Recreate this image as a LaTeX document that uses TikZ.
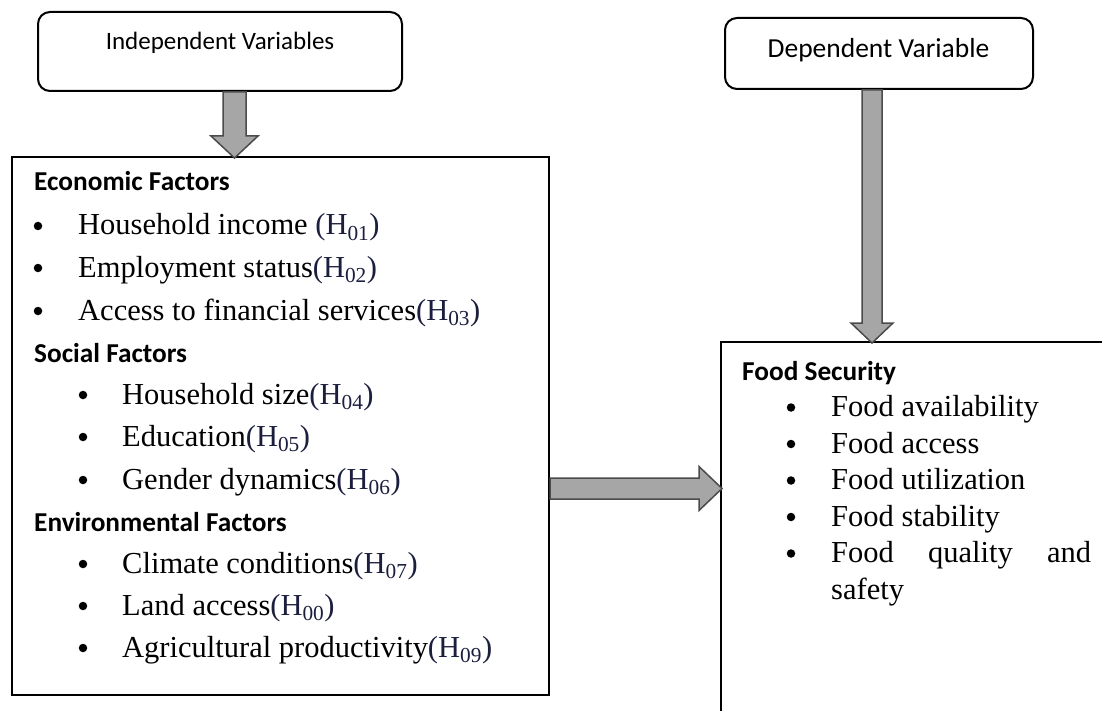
\documentclass[tikz,border=0pt]{standalone}
\usepackage{fontspec}
\setmainfont{Liberation Serif}
\setsansfont{Carlito}
\usetikzlibrary{positioning}
\definecolor{arrowgray}{RGB}{166,166,166}
\definecolor{arrowedge}{RGB}{75,75,75}
\definecolor{hypcol}{RGB}{28,30,62}
\newcommand{\hyp}[1]{{\color{hypcol}(H\textsubscript{#1})}}
\tikzset{
  varbox/.style={draw, line width=2pt, rounded corners=12pt, inner sep=0pt},
  factorbox/.style={draw, line width=2pt, inner sep=0pt},
  blockarrow/.style={draw=arrowedge, fill=arrowgray, line width=1.5pt},
  varlabel/.style={font=\fontsize{25}{30}\sffamily, inner sep=0pt, anchor=base},
  head/.style={font=\fontsize{27.3}{32}\sffamily\bfseries, inner sep=0pt, anchor=base west},
  item/.style={font=\fontsize{30.5}{36}\selectfont, inner sep=0pt, anchor=base west},
  dot/.style={circle, fill, inner sep=0pt, minimum size=8.5pt}}

\begin{document}
\begin{tikzpicture}[x=1pt, y=-1pt]
  \useasboundingbox (0,0) rectangle (1102,711);
  \clip (0,0) rectangle (1102,711);
  % boxes
  \node[varbox, minimum width=364pt, minimum height=79pt] (indep) at (220,51.5) {};
  \node[varbox, minimum width=308pt, minimum height=71pt] (dep) at (879,53.5) {};
  \node[factorbox, minimum width=537pt, minimum height=538pt] (factors) at (280.5,426) {};
  \node[factorbox, minimum width=389pt, minimum height=383pt] (food) at (915.5,533.5) {};
  \node[varlabel] (indeplabel) at (220,50) {Independent Variables};
  \node[varlabel, font=\fontsize{27.5}{32}\sffamily] (deplabel) at (878.5,58) {Dependent Variable};
  % block arrows
  \coordinate (ax) at (234.5,0);
  \coordinate (bx) at (872,0);
  \coordinate (cy) at (0,488.5);
  \draw[blockarrow] (indep.south -| ax) ++(-11.5,0) -- ++(0,44) -- ++(-12,0) -- ++(23.5,22)
    -- ++(23.5,-22) -- ++(-12,0) -- ++(0,-44) -- cycle;
  \draw[blockarrow] (dep.south -| bx) ++(-10,0) -- ++(0,233) -- ++(-11,0) -- ++(21,20)
    -- ++(21,-20) -- ++(-11,0) -- ++(0,-233) -- cycle;
  \draw[blockarrow] (factors.east |- cy) ++(0,-10.5) -- ++(149,0) -- ++(0,-11.5) -- ++(23,22)
    -- ++(-23,22) -- ++(0,-11.5) -- ++(-149,0) -- cycle;
  % economic
  \node[head] (ecohead) at (34,191) {Economic Factors};
  \node[dot] (e1dot) at (38,226) {};  \node[item] (e1) at (78,235) {Household income \hyp{01}};
  \node[dot] (e2dot) at (38,268) {};  \node[item] (e2) at (78,277) {Employment status\hyp{02}};
  \node[dot] (e3dot) at (38,311) {};  \node[item] (e3) at (78,320) {Access to financial services\hyp{03}};
  % social
  \node[head] (sochead) at (34,362) {Social Factors};
  \node[dot] (s1dot) at (83,395) {};  \node[item] (s1) at (122,404) {Household size\hyp{04}};
  \node[dot] (s2dot) at (83,437) {};  \node[item] (s2) at (122,446) {Education\hyp{05}};
  \node[dot] (s3dot) at (83,480) {};  \node[item] (s3) at (122,489) {Gender dynamics\hyp{06}};
  % environmental
  \node[head] (envhead) at (34,531) {Environmental Factors};
  \node[dot] (v1dot) at (83,564) {};  \node[item] (v1) at (122,573) {Climate conditions\hyp{07}};
  \node[dot] (v2dot) at (83,606) {};  \node[item] (v2) at (122,615) {Land access\hyp{00}};
  \node[dot] (v3dot) at (83,648) {};  \node[item] (v3) at (122,657) {Agricultural productivity\hyp{09}};
  % food security
  \node[head] (foodhead) at (742,380) {Food Security};
  \node[dot] (f1dot) at (791,407.5) {};  \node[item] (f1) at (831,416.5) {Food availability};
  \node[dot] (f2dot) at (791,444) {};    \node[item] (f2) at (831,453) {Food access};
  \node[dot] (f3dot) at (791,480.5) {};  \node[item] (f3) at (831,489.5) {Food utilization};
  \node[dot] (f4dot) at (791,517) {};    \node[item] (f4) at (831,526) {Food stability};
  \node[dot] (f5dot) at (791,553.5) {};  \node[item] (f5) at (831,562.5) {\makebox[260pt][s]{Food quality and}};
  \node[item] (f6) at (831,599) {safety};
\end{tikzpicture}
\end{document}
